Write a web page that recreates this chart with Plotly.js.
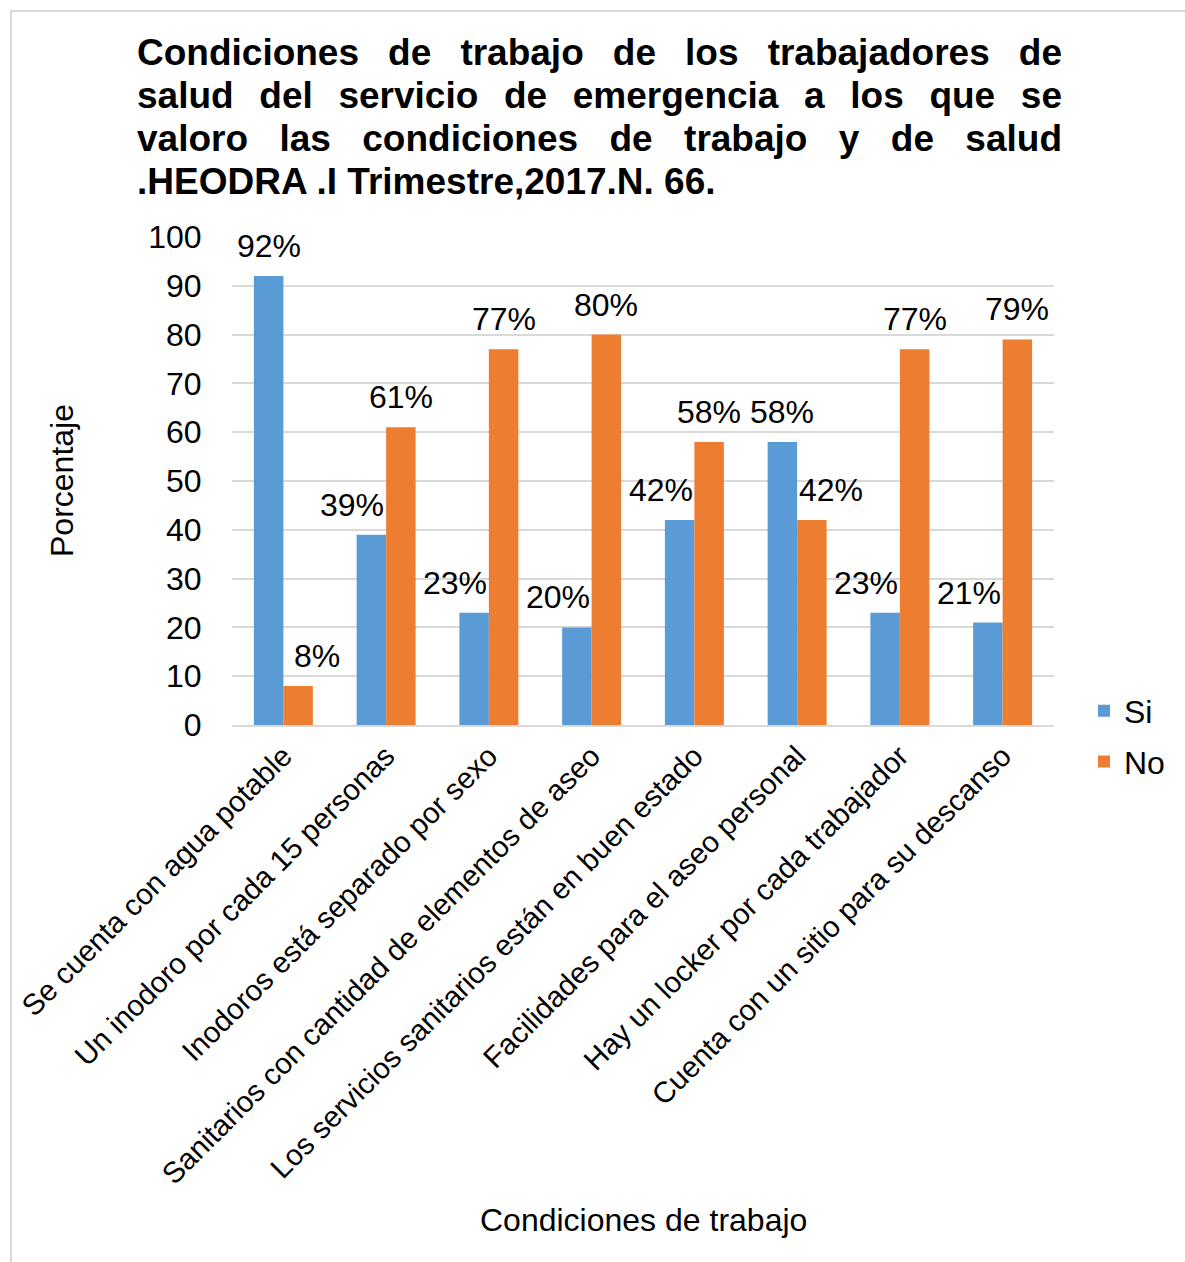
<!DOCTYPE html>
<html>
<head>
<meta charset="utf-8">
<script src="https://cdn.plot.ly/plotly-3.0.1.min.js"></script>
<style>
  html, body { margin: 0; padding: 0; background: #fff; overflow: hidden; }
  #wrap { position: relative; width: 1185px; height: 1262px; }
  #chart { position: absolute; left: 0; top: 0; width: 1185px; height: 1262px; }
  #frame { position: absolute; left: 10px; top: 10px; width: 1300px; height: 1400px;
           border-left: 2px solid #d9d9d9; border-top: 2px solid #d9d9d9; pointer-events: none; }
</style>
</head>
<body>
<div id="wrap">
  <div id="chart"></div>
  <div id="frame"></div>
</div>
<script>
const titleLines = [
  "Condiciones de trabajo de los trabajadores de",
  "salud del servicio de emergencia a los que se",
  "valoro las condiciones de trabajo y de salud",
  ".HEODRA .I Trimestre,2017.N. 66."
];
const categories = [
  "Se cuenta con agua potable",
  "Un inodoro por cada 15 personas",
  "Inodoros está separado por sexo",
  "Sanitarios con cantidad de elementos de aseo",
  "Los servicios sanitarios están en buen estado",
  "Facilidades para el aseo personal",
  "Hay un locker por cada trabajador",
  "Cuenta con un sitio para su descanso"
];
const seriesNames = ["Si", "No"];
const siValues = [92, 39, 23, 20, 42, 58, 23, 21];
const noValues = [8, 61, 77, 80, 58, 42, 77, 79];
const yTickValues = [0, 10, 20, 30, 40, 50, 60, 70, 80, 90, 100];
const xTitle = "Condiciones de trabajo";
const yTitle = "Porcentaje";

const FONT = "'Liberation Sans', Arial, sans-serif";
const BLUE = "#5B9BD5";
const ORANGE = "#ED7D31";
const LABEL_SIZE = 32;

const traces = [
  { type: "bar", name: seriesNames[0], x: categories, y: siValues, legendgroup: "a",
    marker: { color: BLUE }, hoverinfo: "skip" },
  { type: "bar", name: seriesNames[1], x: categories, y: noValues, legendgroup: "b",
    marker: { color: ORANGE }, hoverinfo: "skip" }
];

// Data labels: centred on their bar; the label of the shorter bar in each
// pair is pushed outward (away from the taller bar) as in the source chart.
const HALF = 14.75, PUSH = 19;
const annotations = [];
categories.forEach((c, i) => {
  const s = siValues[i], n = noValues[i];
  const siShift = -HALF - (s < n ? PUSH : 0);
  const noShift = HALF + (n < s ? PUSH : 0);
  [[s, siShift], [n, noShift]].forEach(([v, xs]) => {
    annotations.push({
      x: c, y: v, xref: "x", yref: "y",
      text: v + "%", showarrow: false,
      xshift: xs, yshift: 30, xanchor: "center", yanchor: "middle",
      font: { family: FONT, size: LABEL_SIZE, color: "#000" }
    });
  });
});
annotations.push({
  x: 0, y: 0.5, xref: "paper", yref: "paper", xshift: -170,
  text: yTitle, textangle: -90, showarrow: false,
  xanchor: "center", yanchor: "middle",
  font: { family: FONT, size: 32, color: "#000" }
});
annotations.push({
  x: 0.5, y: 0, xref: "paper", yref: "paper", yshift: -495,
  text: xTitle, showarrow: false,
  xanchor: "center", yanchor: "middle",
  font: { family: FONT, size: 32, color: "#000" }
});

const TITLE_SIZE = 37;
const layout = {
  width: 1185, height: 1262,
  margin: { l: 232, r: 131, t: 237, b: 537, pad: 0 },
  paper_bgcolor: "rgba(0,0,0,0)", plot_bgcolor: "rgba(0,0,0,0)",
  font: { family: FONT, color: "#000" },
  title: {
    text: titleLines.join("<br>"),
    xref: "container", yref: "container",
    x: 137 / 1185, xanchor: "left",
    y: 1 - 65 / 1262, yanchor: "top",
    font: { family: FONT, size: TITLE_SIZE, weight: 700, color: "#000" }
  },
  barmode: "group",
  bargap: 0.426,
  bargroupgap: 0,
  xaxis: {
    type: "category",
    range: [-0.5, categories.length - 0.5],
    autorange: false,
    tickangle: -45,
    tickfont: { family: FONT, size: 29.5, color: "#000" },
    showline: true, linecolor: "#d9d9d9", linewidth: 2,
    ticks: "", showgrid: false, automargin: false
  },
  yaxis: {
    range: [0, 100],
    autorange: false,
    tickvals: yTickValues,
    ticktext: yTickValues.map(String),
    tickfont: { family: FONT, size: 32, color: "#000" },
    ticks: "outside", ticklen: 23, tickcolor: "rgba(0,0,0,0)",
    showgrid: true, gridcolor: "#d9d9d9", gridwidth: 2,
    zeroline: false, showline: false, automargin: false
  },
  legend: {
    x: 1.0365, xanchor: "left", y: 0.085, yanchor: "top",
    font: { family: FONT, size: 32, color: "#000" },
    bgcolor: "rgba(0,0,0,0)", itemwidth: 30,
    traceorder: "grouped", tracegroupgap: 6
  },
  annotations: annotations,
  showlegend: true
};

Plotly.newPlot("chart", traces, layout, { displayModeBar: false, staticPlot: true }).then(gd => {
  const t = gd.querySelector(".gtitle");
  if (!t) return;
  const lines = t.querySelectorAll("tspan.line");
  const target = 1062 - 137;
  const lineEm = 43 / TITLE_SIZE;
  lines.forEach((ln, k) => {
    const dy = ln.getAttribute("dy");
    if (k > 0 && dy && dy.endsWith("em")) {
      ln.setAttribute("dy", (parseFloat(dy) / 1.3 * lineEm) + "em");
    }
  });
  lines.forEach((ln, k) => {
    if (k === lines.length - 1) return;
    const txt = ln.textContent;
    const nSp = (txt.match(/ /g) || []).length;
    const w = ln.getComputedTextLength();
    if (nSp > 0 && w < target) {
      ln.style.wordSpacing = ((target - w) / nSp) + "px";
    }
  });
});
</script>
</body>
</html>
